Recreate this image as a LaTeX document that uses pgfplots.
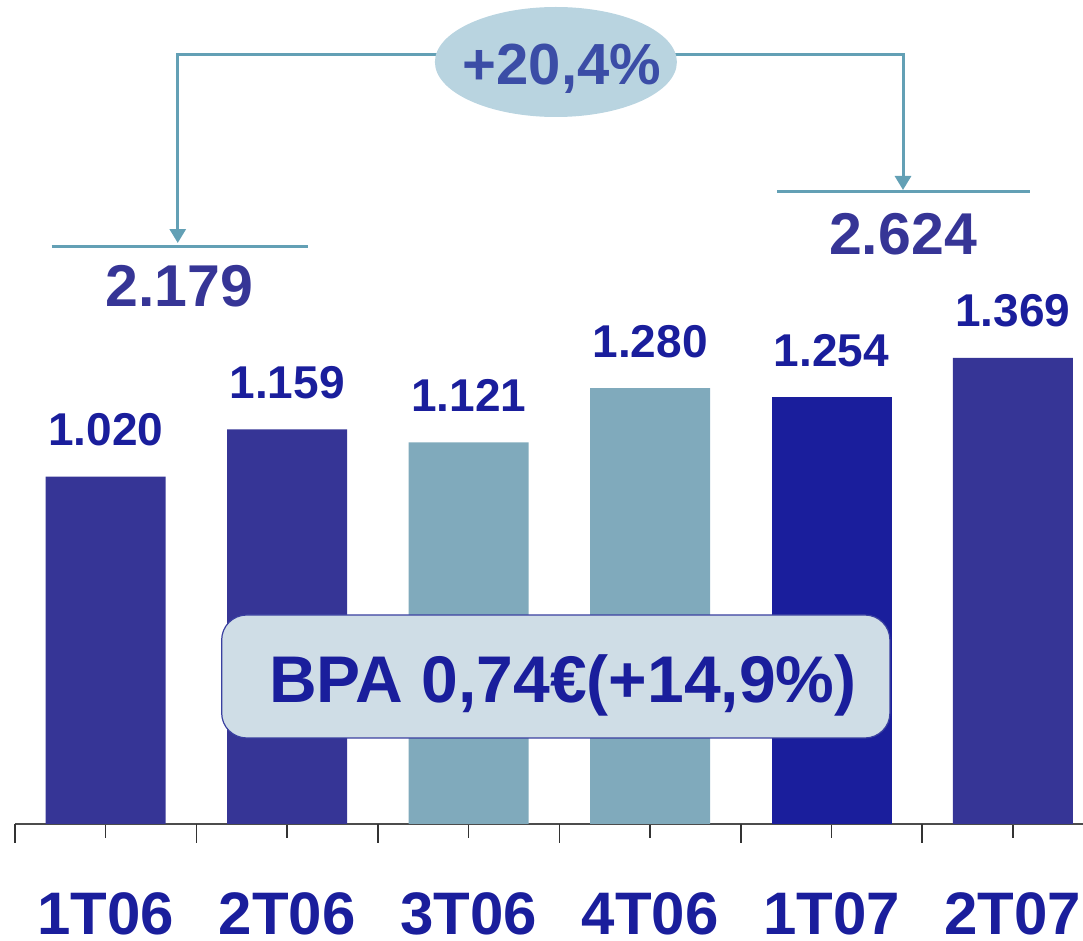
\documentclass[border=0pt]{standalone}
\usepackage{pgfplots}
\pgfplotsset{compat=1.18}
\usepackage{fontspec}
\setmainfont{Liberation Sans}
\usetikzlibrary{arrows.meta}
\definecolor{barA}{HTML}{363596}
\definecolor{barB}{HTML}{80AABC}
\definecolor{barC}{HTML}{1A1E9C}
\definecolor{txtA}{HTML}{1A1E9C}
\definecolor{totA}{HTML}{363596}
\definecolor{lineC}{HTML}{63A0B5}
\definecolor{ellF}{HTML}{B9D4E0}
\definecolor{ellT}{HTML}{3B4DA6}
\definecolor{boxF}{HTML}{CFDDE6}
\definecolor{boxD}{HTML}{3A40A0}
\begin{document}
\begin{tikzpicture}
\begin{axis}[
  at={(0,0)}, anchor=south west,
  scale only axis, width=534pt, height=412pt,
  xmin=-0.5, xmax=5.386, ymin=0, ymax=2420,
  clip=false,
  axis x line*=bottom, axis y line=none,
  axis line style={draw=black!70, line width=0.75pt},
  xtick={0,1,2,3,4,5},
  xticklabels={1T06,2T06,3T06,4T06,1T07,2T07},
  tick align=outside,
  major tick length=7pt,
  tick style={draw=black!80, line width=0.75pt},
  xticklabel style={anchor=base, inner sep=0pt, yshift=-48.5pt, font=\fontsize{30}{36}\selectfont\bfseries, text=txtA},
  typeset ticklabels with strut=false,
  extra x ticks={-0.5,0.5,1.5,2.5,3.5,4.5},
  extra x tick labels={,,,,,,},
  extra x tick style={major tick length=9.5pt},
  /pgf/number format/assume math mode=true,
  nodes near coords={\pgfmathprintnumber[1000 sep={.}]{\pgfplotspointmeta}},
  every node near coord/.append style={anchor=base, yshift=15.5pt, font=\fontsize{23}{28}\selectfont\bfseries, text=txtA},
]
\addplot[ybar, bar width=60pt, fill=barA, draw=none] coordinates {(0,1020) (1,1159) (5,1369)};
\addplot[ybar, bar width=60pt, fill=barB, draw=none] coordinates {(2,1121) (3,1280)};
\addplot[ybar, bar width=60pt, fill=barC, draw=none] coordinates {(4,1254)};
% brackets
\draw[lineC, line width=1.5pt] (axis cs:-0.298,1697.5) -- (axis cs:1.114,1697.5);
\draw[lineC, line width=1.5pt] (axis cs:3.699,1856.1) -- (axis cs:5.094,1856.1);
\draw[lineC, line width=1.5pt, line join=miter, {Triangle[width=8pt,length=7pt]}-{Triangle[width=8pt,length=7pt]}]
  (axis cs:0.397,1706.3) -- (axis cs:0.397,2258.5) -- (axis cs:4.394,2258.5) -- (axis cs:4.394,1862.0);
\fill[ellF] (axis cs:2.481,2237.9) ellipse [x radius=60.5pt, y radius=27.5pt];
\node[anchor=base, text=ellT, font=\fontsize{29}{35}\selectfont\bfseries, inner sep=0pt] at (axis cs:2.514,2170.4) {+20,4\%};
\node[anchor=base, text=totA, font=\fontsize{29.5}{35}\selectfont\bfseries, inner sep=0pt] at (axis cs:0.405,1518.4) {2.179};
\node[anchor=base, text=totA, font=\fontsize{29.5}{35}\selectfont\bfseries, inner sep=0pt] at (axis cs:4.394,1674.0) {2.624};
% BPA box
\draw[fill=boxF, draw=boxD, line width=0.6pt, rounded corners=12.5pt] (axis cs:0.639,252.6) rectangle (axis cs:4.322,613.8);
\node[anchor=base, text=txtA, font=\fontsize{33}{40}\selectfont\bfseries, inner sep=0pt] at (axis cs:2.519,355.4) {BPA 0,74€(+14,9\%)};
\end{axis}
\pgfresetboundingbox
\path (-7.5pt,-58.5pt) rectangle (534pt,412pt);
\end{tikzpicture}
\end{document}
